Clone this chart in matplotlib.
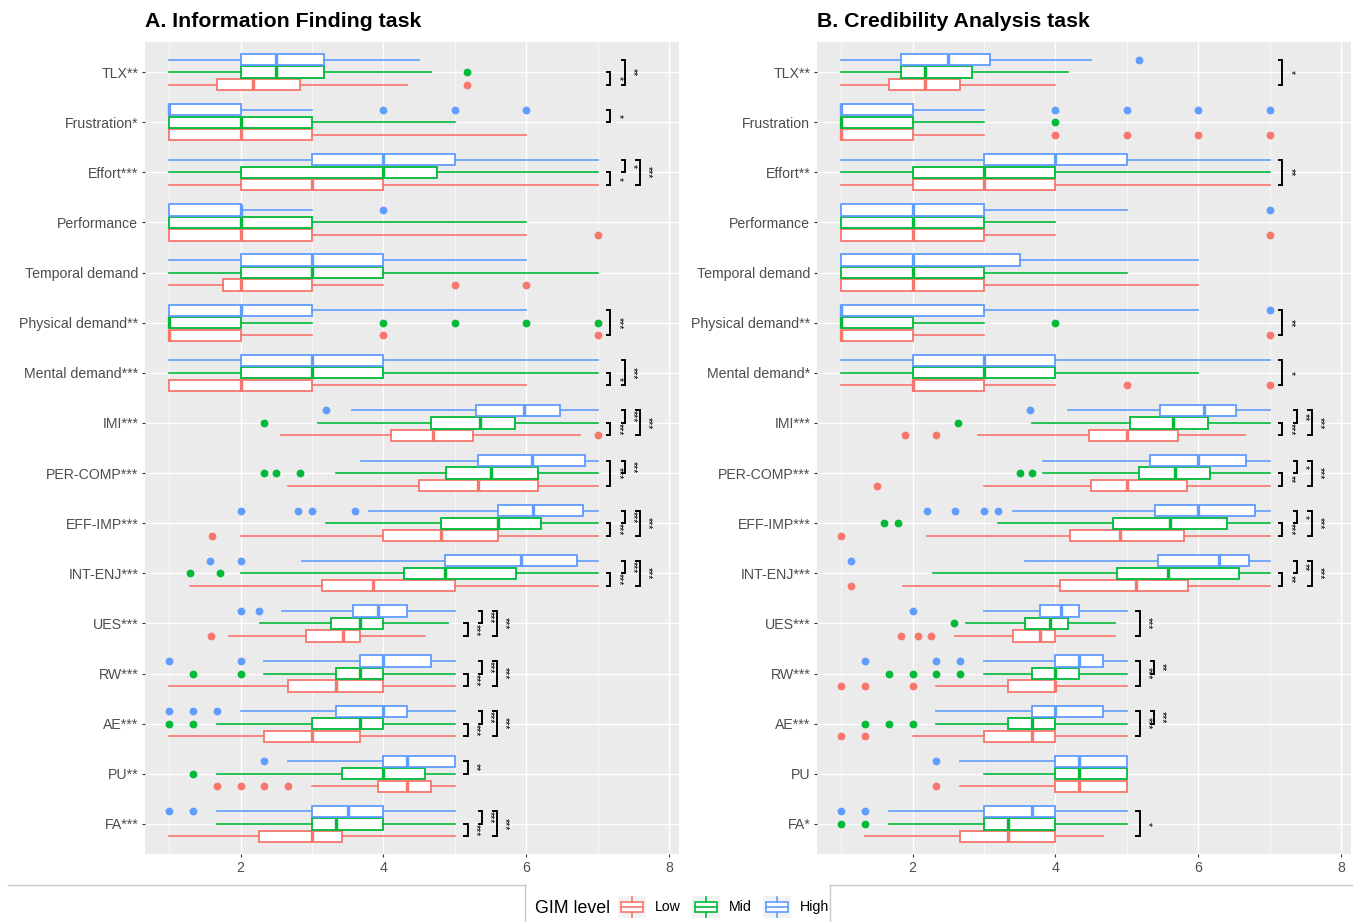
import numpy as np
import matplotlib.pyplot as plt
from matplotlib.lines import Line2D
from matplotlib.patches import Rectangle
from matplotlib.legend_handler import HandlerBase

plt.rcParams['font.family'] = ['Liberation Sans', 'DejaVu Sans']

CATEGORIES = ["TLX", "Frustration", "Effort", "Performance", "Temporal demand",
              "Physical demand", "Mental demand", "IMI", "PER-COMP", "EFF-IMP",
              "INT-ENJ", "UES", "RW", "AE", "PU", "FA"]
A_LABELS = ["TLX**", "Frustration*", "Effort***", "Performance", "Temporal demand",
            "Physical demand**", "Mental demand***", "IMI***", "PER-COMP***", "EFF-IMP***",
            "INT-ENJ***", "UES***", "RW***", "AE***", "PU**", "FA***"]
B_LABELS = ["TLX**", "Frustration", "Effort**", "Performance", "Temporal demand",
            "Physical demand**", "Mental demand*", "IMI***", "PER-COMP***", "EFF-IMP***",
            "INT-ENJ***", "UES***", "RW***", "AE***", "PU", "FA*"]
# where the significance brackets start (top of the scale of each measure)
BRACKET_BASE = [7] * 11 + [5] * 5

LEVELS = ["Low", "Mid", "High"]
COLORS = {"Low": "#F8766D", "Mid": "#00BA38", "High": "#619CFF"}

# (whisker low, q1, median, q3, whisker high), top to bottom
A_LOW = [(1, 1.67, 2.17, 2.83, 4.33), (1, 1, 2, 3, 6), (1, 2, 3, 4, 7), (1, 1, 2, 3, 6),
         (1, 1.75, 2, 3, 4), (1, 1, 1, 2, 3), (1, 1, 2, 3, 6), (2.56, 4.1, 4.69, 5.25, 6.76),
         (2.67, 4.5, 5.33, 6.17, 7), (2.0, 4.0, 4.8, 5.6, 7), (1.29, 3.14, 3.86, 5.0, 7),
         (1.84, 2.91, 3.43, 3.67, 4.58), (1, 2.67, 3.33, 4, 5), (1, 2.33, 3, 3.67, 5),
         (3, 3.92, 4.33, 4.67, 5), (1, 2.25, 3, 3.42, 5)]
A_LOW_OUT = [[5.17], [], [], [7], [5, 6], [4, 7], [], [7], [], [1.6], [], [1.59], [], [],
             [1.67, 2, 2.33, 2.67], []]
A_MID = [(1, 2, 2.5, 3.17, 4.67), (1, 1, 2, 3, 5), (1, 2, 4, 4.75, 7), (1, 1, 2, 3, 6),
         (1, 2, 3, 4, 7), (1, 1, 1, 2, 3), (1, 2, 3, 4, 7), (3.08, 4.66, 5.35, 5.84, 7),
         (3.33, 4.87, 5.5, 6.17, 7), (3.2, 4.8, 5.6, 6.2, 7), (2.0, 4.29, 4.86, 5.86, 7),
         (2.27, 3.26, 3.67, 4.0, 4.91), (2.33, 3.33, 3.67, 4, 5), (1.67, 3, 3.67, 4, 5),
         (1.67, 3.42, 4, 4.58, 5), (1.67, 3, 3.33, 4, 5)]
A_MID_OUT = [[5.17], [], [], [], [], [4, 5, 6, 7], [], [2.33], [2.33, 2.5, 2.83], [],
             [1.29, 1.71], [], [1.33, 2], [1, 1.33], [1.33], []]
A_HIGH = [(1, 2, 2.5, 3.17, 4.5), (1, 1, 1, 2, 3), (1, 3, 4, 5, 7), (1, 1, 2, 2, 3),
          (1, 2, 3, 4, 6), (1, 1, 2, 3, 6), (1, 2, 3, 4, 7), (3.56, 5.3, 5.97, 6.47, 7),
          (3.68, 5.33, 6.08, 6.83, 7), (3.8, 5.6, 6.1, 6.8, 7), (2.86, 4.86, 5.93, 6.71, 7),
          (2.58, 3.58, 3.92, 4.33, 5), (2.33, 3.67, 4, 4.67, 5), (2, 3.33, 4, 4.33, 5),
          (2.67, 4, 4.33, 5, 5), (1.67, 3, 3.5, 4, 5)]
A_HIGH_OUT = [[], [4, 5, 6], [], [4], [], [], [], [3.19], [], [2.0, 2.8, 3.0, 3.6],
              [1.57, 2.0], [2.0, 2.25], [1, 2], [1, 1.33, 1.67], [2.33], [1, 1.33]]

B_LOW = [(1, 1.67, 2.17, 2.67, 4), (1, 1, 1, 2, 3), (1, 2, 3, 4, 7), (1, 1, 2, 3, 4),
         (1, 1, 2, 3, 6), (1, 1, 1, 2, 3), (1, 2, 2, 3, 4), (2.91, 4.47, 5.0, 5.71, 6.65),
         (3.0, 4.5, 5.0, 5.84, 7), (2.2, 4.2, 4.9, 5.8, 7), (1.87, 4.07, 5.13, 5.86, 7),
         (2.59, 3.4, 3.79, 4.0, 4.83), (2.33, 3.33, 4, 4, 5), (2, 3, 3.67, 4, 5),
         (2.67, 4, 4.33, 5, 5), (1.33, 2.67, 3.33, 4, 4.67)]
B_LOW_OUT = [[], [4, 5, 6, 7], [], [7], [], [7], [5, 7], [1.89, 2.33], [1.5], [1.0], [1.14],
             [1.84, 2.08, 2.25], [1, 1.33, 2], [1, 1.33], [2.33], []]
B_MID = [(1, 1.83, 2.17, 2.83, 4.17), (1, 1, 1, 2, 3), (1, 2, 3, 4, 7), (1, 1, 2, 3, 4),
         (1, 1, 2, 3, 5), (1, 1, 1, 2, 3), (1, 2, 3, 4, 6), (3.67, 5.04, 5.64, 6.13, 7),
         (3.83, 5.17, 5.67, 6.17, 7), (3.2, 4.8, 5.6, 6.4, 7), (2.29, 4.86, 5.57, 6.57, 7),
         (2.75, 3.58, 3.92, 4.17, 4.83), (3, 3.67, 4, 4.33, 5), (2.33, 3.33, 3.67, 4, 5),
         (3, 4, 4.33, 5, 5), (1.67, 3, 3.33, 4, 5)]
B_MID_OUT = [[], [4], [], [], [], [4], [], [2.64], [3.5, 3.67], [1.6, 1.8], [], [2.58],
             [1.67, 2, 2.33, 2.67], [1.33, 1.67, 2], [], [1, 1.33]]
B_HIGH = [(1, 1.83, 2.5, 3.08, 4.5), (1, 1, 1, 2, 3), (1, 3, 4, 5, 7), (1, 1, 2, 3, 5),
          (1, 1, 2, 3.5, 6), (1, 1, 1, 3, 6), (1, 2, 3, 4, 7), (4.17, 5.47, 6.08, 6.53, 7),
          (3.83, 5.33, 6.0, 6.67, 7), (3.4, 5.4, 6.0, 6.8, 7), (3.57, 5.43, 6.29, 6.71, 7),
          (3.0, 3.79, 4.08, 4.33, 5), (3, 4, 4.33, 4.67, 5), (2.33, 3.67, 4, 4.67, 5),
          (2.67, 4, 4.33, 5, 5), (1.67, 3, 3.67, 4, 5)]
B_HIGH_OUT = [[5.17], [4, 5, 6, 7], [], [7], [], [7], [], [3.64], [], [2.2, 2.6, 3.0, 3.2],
              [1.14], [2.0], [1.33, 2.33, 2.67], [], [2.33], [1, 1.33]]

# pairwise tests: (measure, pair, stars), in bracket order
A_SIG = [("TLX", "LM", "*"), ("TLX", "LH", "**"),
         ("Frustration", "MH", "*"),
         ("Effort", "LM", "*"), ("Effort", "MH", "*"), ("Effort", "LH", "***"),
         ("Physical demand", "LH", "***"),
         ("Mental demand", "LM", "*"), ("Mental demand", "LH", "***"),
         ("IMI", "LM", "***"), ("IMI", "MH", "***"), ("IMI", "LH", "***"),
         ("PER-COMP", "LH", "***"), ("PER-COMP", "MH", "***"),
         ("EFF-IMP", "LM", "***"), ("EFF-IMP", "MH", "***"), ("EFF-IMP", "LH", "***"),
         ("INT-ENJ", "LM", "***"), ("INT-ENJ", "MH", "***"), ("INT-ENJ", "LH", "***"),
         ("UES", "LM", "***"), ("UES", "MH", "***"), ("UES", "LH", "***"),
         ("RW", "LM", "***"), ("RW", "MH", "***"), ("RW", "LH", "***"),
         ("AE", "LM", "***"), ("AE", "MH", "***"), ("AE", "LH", "***"),
         ("PU", "MH", "**"),
         ("FA", "LM", "***"), ("FA", "MH", "***"), ("FA", "LH", "***")]
B_SIG = [("TLX", "LH", "*"),
         ("Effort", "LH", "**"),
         ("Physical demand", "LH", "**"),
         ("Mental demand", "LH", "*"),
         ("IMI", "LM", "***"), ("IMI", "MH", "**"), ("IMI", "LH", "***"),
         ("PER-COMP", "LM", "**"), ("PER-COMP", "MH", "*"), ("PER-COMP", "LH", "***"),
         ("EFF-IMP", "LM", "***"), ("EFF-IMP", "MH", "*"), ("EFF-IMP", "LH", "***"),
         ("INT-ENJ", "LM", "**"), ("INT-ENJ", "MH", "**"), ("INT-ENJ", "LH", "***"),
         ("UES", "LH", "***"),
         ("RW", "LH", "***"), ("RW", "MH", "**"),
         ("AE", "LH", "***"), ("AE", "MH", "***"),
         ("FA", "LH", "*")]

DODGE = {"Low": -0.25, "Mid": 0.0, "High": 0.25}
PAIR_SPAN = {"LM": ("Low", "Mid"), "MH": ("Mid", "High"), "LH": ("Low", "High")}
PANEL_BG = "#EBEBEB"
TEXT_COL = "#4D4D4D"


def draw_panel(ax, title, labels, stats, outs, sigs):
    n = len(CATEGORIES)
    ypos = np.arange(n, 0, -1)
    ax.set_facecolor(PANEL_BG)
    for level in LEVELS:
        col = COLORS[level]
        boxes = []
        for (lo, q1, med, q3, hi), fl in zip(stats[level], outs[level]):
            boxes.append(dict(whislo=lo, q1=q1, med=med, q3=q3, whishi=hi, fliers=fl))
        kw = dict(positions=ypos + DODGE[level], widths=0.225, showcaps=False,
                  patch_artist=True, manage_ticks=False,
                  boxprops=dict(facecolor="white", edgecolor=col, linewidth=1.3),
                  whiskerprops=dict(color=col, linewidth=1.2),
                  medianprops=dict(color=col, linewidth=2.4, solid_capstyle="butt"),
                  flierprops=dict(marker="o", markerfacecolor=col, markeredgecolor=col,
                                  markersize=4.6))
        try:
            ax.bxp(boxes, orientation="horizontal", **kw)
        except TypeError:
            ax.bxp(boxes, vert=False, **kw)

    # significance brackets
    count = {}
    for name, pair, stars in sigs:
        i = CATEGORIES.index(name)
        k = count.get(name, 0)
        count[name] = k + 1
        x = BRACKET_BASE[i] + 0.18 + 0.205 * k
        a, b = PAIR_SPAN[pair]
        y0 = ypos[i] + DODGE[a]
        y1 = ypos[i] + DODGE[b]
        ax.plot([x - 0.05, x, x, x - 0.05], [y0, y0, y1, y1], color="black",
                lw=1.4, solid_joinstyle="miter", clip_on=False)
        ax.text(x + 0.04, (y0 + y1) / 2, stars, rotation=270, fontsize=7.5,
                ha="left", va="center", color="black")

    ax.set_xlim(0.66, 8.14)
    ax.set_ylim(0.4, 16.6)
    ax.set_xticks([2, 4, 6, 8])
    ax.set_xticks([1, 3, 5, 7], minor=True)
    ax.set_yticks(ypos)
    ax.set_yticklabels(labels)
    ax.grid(True, which="major", color="white", lw=1.0)
    ax.grid(True, which="minor", axis="x", color="white", lw=0.5)
    ax.set_axisbelow(True)
    ax.tick_params(which="major", length=2.4, width=0.8, color="#333333",
                   labelsize=10.2, labelcolor=TEXT_COL, pad=2.5)
    ax.tick_params(which="minor", length=0)
    for s in ax.spines.values():
        s.set_visible(False)
    ax.set_title(title, loc="left", fontsize=15.3, fontweight="bold", pad=11)


class BoxKey(HandlerBase):
    def create_artists(self, legend, orig_handle, xdescent, ydescent, width, height,
                       fontsize, trans):
        col = orig_handle.get_color()
        bg = Rectangle((-xdescent, -ydescent), width, height, facecolor="#F2F2F2",
                       edgecolor="none", transform=trans)
        bx = Rectangle((-xdescent + 0.12 * width, -ydescent + 0.27 * height),
                       0.76 * width, 0.46 * height, facecolor="white", edgecolor=col,
                       lw=1.2, transform=trans)
        cx = -xdescent + width / 2
        med = Line2D([-xdescent + 0.12 * width, -xdescent + 0.88 * width],
                     [-ydescent + height / 2] * 2, color=col, lw=1.2, transform=trans)
        w1 = Line2D([cx, cx], [-ydescent + 0.08 * height, -ydescent + 0.27 * height],
                    color=col, lw=1.2, transform=trans)
        w2 = Line2D([cx, cx], [-ydescent + 0.73 * height, -ydescent + 0.92 * height],
                    color=col, lw=1.2, transform=trans)
        return [bg, bx, med, w1, w2]


W, H = 1353, 922
fig = plt.figure(figsize=(W / 100, H / 100), dpi=100)
ax1 = fig.add_axes([145 / W, 1 - 854 / H, 534 / W, 812 / H])
ax2 = fig.add_axes([817 / W, 1 - 854 / H, 534 / W, 812 / H])

draw_panel(ax1, "A. Information Finding task", A_LABELS,
           {"Low": A_LOW, "Mid": A_MID, "High": A_HIGH},
           {"Low": A_LOW_OUT, "Mid": A_MID_OUT, "High": A_HIGH_OUT}, A_SIG)
draw_panel(ax2, "B. Credibility Analysis task", B_LABELS,
           {"Low": B_LOW, "Mid": B_MID, "High": B_HIGH},
           {"Low": B_LOW_OUT, "Mid": B_MID_OUT, "High": B_HIGH_OUT}, B_SIG)

# legend at the bottom
handles = [Line2D([], [], color=COLORS[l]) for l in LEVELS]
fig.legend(handles, LEVELS, handler_map={h: BoxKey() for h in handles},
           ncol=3, loc="center left", bbox_to_anchor=(618 / W, 1 - 907 / H),
           frameon=False, fontsize=10.2, handlelength=2.0, handleheight=2.1,
           handletextpad=0.6, columnspacing=0.8, borderpad=0, borderaxespad=0)
fig.text(535 / W, 1 - 908 / H, "GIM level", fontsize=12.75, ha="left", va="center",
         color="black")

# light frame around the legend area
lc = "#C8C8C8"
yl = 1 - 885 / H
fig.add_artist(Line2D([8 / W, 525 / W], [yl, yl], color=lc, lw=1))
fig.add_artist(Line2D([830 / W, 1], [yl, yl], color=lc, lw=1))
fig.add_artist(Line2D([525 / W, 525 / W], [0, yl], color=lc, lw=1))
fig.add_artist(Line2D([830 / W, 830 / W], [0, yl], color=lc, lw=1))

fig.savefig("out.png", dpi=100)
